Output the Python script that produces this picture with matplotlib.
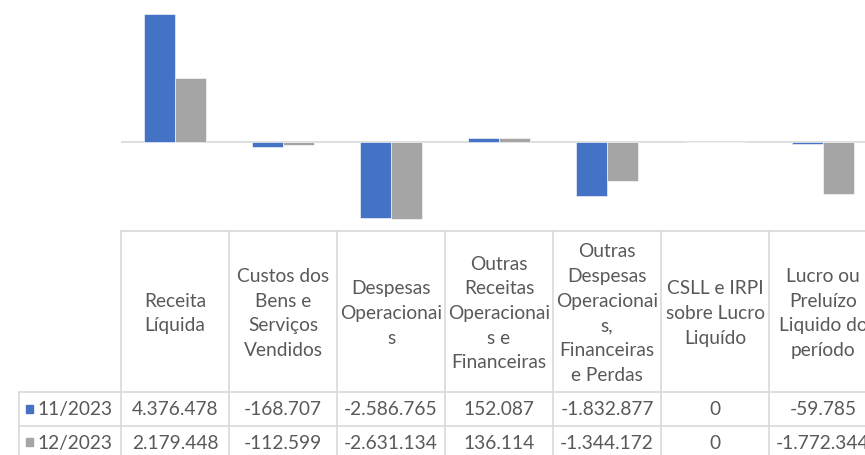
import matplotlib
matplotlib.use("Agg")
import matplotlib.pyplot as plt
from matplotlib.patches import Rectangle

categories = [
    "Receita\nLíquida",
    "Custos dos\nBens e\nServiços\nVendidos",
    "Despesas\nOperacionai\ns",
    "Outras\nReceitas\nOperacionai\ns e\nFinanceiras",
    "Outras\nDespesas\nOperacionai\ns,\nFinanceiras\ne Perdas",
    "CSLL e IRPI\nsobre Lucro\nLiquído",
    "Lucro ou\nPreluízo\nLiquido do\nperíodo",
]
series_names = ["11/2023", "12/2023"]
nov_2023 = [4376478, -168707, -2586765, 152087, -1832877, 0, -59785]
dec_2023 = [2179448, -112599, -2631134, 136114, -1344172, 0, -1772344]
series_values = [nov_2023, dec_2023]
colors = ["#4472C4", "#A5A5A5"]

W, H = 865, 456
fig = plt.figure(figsize=(W / 100, H / 100), dpi=100)
plt.rcParams['font.family'] = ['Lato', 'DejaVu Sans']

# geometry in pixels
x0 = 121          # left of plot / table
colw = 108        # category width
n = len(categories)
x1 = x0 + n * colw
zero_y = 143
px_per_unit = 29.3 / 1e6
tab_top = 232

ax = fig.add_axes([x0 / W, (H - tab_top) / H, (x1 - x0) / W, tab_top / H])
ax.set_xlim(-0.5, n - 0.5)
ax.set_ylim(-(tab_top - zero_y) / px_per_unit, zero_y / px_per_unit)
bw = 31 / colw
for s, vals in enumerate(series_values):
    xs = [i + (s - 0.5) * bw for i in range(n)]
    ax.bar(xs, vals, width=bw, color=colors[s], edgecolor="white", linewidth=0.4, zorder=2)
ax.axhline(0, color="#D9D9D9", lw=1.2, zorder=1)
ax.axis("off")

# table overlay in pixel coordinates
tx = fig.add_axes([0, 0, 1, 1])
tx.set_xlim(0, W)
tx.set_ylim(H, 0)
tx.axis("off")
gc = "#D9D9D9"
tc = "#595959"
r1, r2, bot = 393, 427, 462
leg_x = 19
# horizontal lines
tx.plot([x0, x1], [tab_top, tab_top], color=gc, lw=1.2)
tx.plot([leg_x, x1], [r1, r1], color=gc, lw=1.2)
tx.plot([leg_x, x1], [r2, r2], color=gc, lw=1.2)
# vertical lines
for i in range(n + 1):
    xx = x0 + i * colw
    tx.plot([xx, xx], [tab_top, bot], color=gc, lw=1.2)
tx.plot([leg_x, leg_x], [r1, bot], color=gc, lw=1.2)

fs = 13.8
for i, cat in enumerate(categories):
    cx = x0 + (i + 0.5) * colw
    tx.text(cx, (tab_top + r1) / 2 + 1, cat, ha="center", va="center", color=tc,
            fontsize=fs, linespacing=1.55)

def fmt(v):
    return f"{v:,}".replace(",", ".")

row_y = [(r1 + r2) / 2, (r2 + bot) / 2 - 1]
for s, vals in enumerate(series_values):
    y = row_y[s]
    tx.add_patch(Rectangle((26, y - 4), 7, 8, color=colors[s]))
    tx.text(37, y, series_names[s], ha="left", va="center", color=tc, fontsize=fs)
    for i, v in enumerate(vals):
        cx = x0 + (i + 0.5) * colw
        tx.text(cx, y, fmt(v), ha="center", va="center", color=tc, fontsize=fs)

fig.savefig("out.png", dpi=100, facecolor="white")
